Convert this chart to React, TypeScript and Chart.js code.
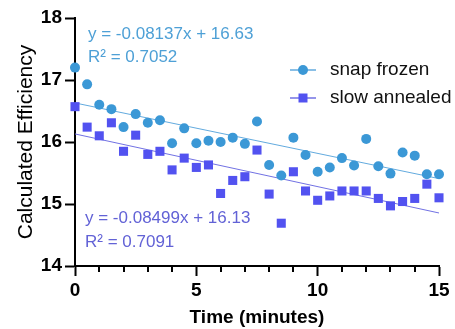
import React, { useEffect, useRef } from 'react';
import { Chart, registerables } from 'chart.js';

Chart.register(...registerables);

const timeMinutes = [0, 0.5, 1, 1.5, 2, 2.5, 3, 3.5, 4, 4.5, 5, 5.5, 6, 6.5, 7, 7.5, 8, 8.5, 9, 9.5, 10, 10.5, 11, 11.5, 12, 12.5, 13, 13.5, 14, 14.5, 15];
const snapFrozen = [17.2, 16.93, 16.6, 16.53, 16.24, 16.45, 16.31, 16.35, 15.98, 16.22, 15.98, 16.02, 16.0, 16.07, 15.97, 16.33, 15.63, 15.46, 16.07, 15.79, 15.52, 15.59, 15.74, 15.62, 16.05, 15.61, 15.49, 15.83, 15.78, 15.48, 15.48];
const slowAnnealed = [16.57, 16.24, 16.1, 16.31, 15.85, 16.11, 15.8, 15.85, 15.55, 15.74, 15.59, 15.63, 15.17, 15.38, 15.44, 15.87, 15.16, 14.69, 15.52, 15.21, 15.06, 15.13, 15.21, 15.21, 15.21, 15.09, 14.97, 15.04, 15.09, 15.32, 15.1];
const seriesLabels = ['snap frozen', 'slow annealed'];
const fitSlopes = [-0.08137, -0.08499];
const fitIntercepts = [16.63, 16.13];
const equationLines = ['y = -0.08137x + 16.63', 'y = -0.08499x + 16.13'];
const r2Lines = ['R\u00B2 = 0.7052', 'R\u00B2 = 0.7091'];
const xMajorTicks = [0, 5, 10, 15];
const yTicks = [14, 15, 16, 17, 18];

const FONT = '"Liberation Sans", Arial, Helvetica, sans-serif';
const pointColors = ['rgb(59,152,214)', 'rgb(82,82,240)'];
const lineColors = ['rgba(90,165,220,0.95)', 'rgba(105,105,225,0.95)'];
const textColors = ['rgb(78,160,214)', 'rgb(98,98,214)'];

const fitPoints = (i: number) => [timeMinutes[0], timeMinutes[timeMinutes.length - 1]].map((x) => ({ x, y: fitSlopes[i] * x + fitIntercepts[i] }));

const overlayPlugin = {
  id: 'overlay',
  afterDraw(chart: any) {
    const { ctx, chartArea, scales } = chart;
    const xs = scales.x;
    ctx.save();
    // minor ticks on x axis
    ctx.strokeStyle = '#000';
    ctx.lineWidth = 2;
    for (let v = xs.min; v <= xs.max; v++) {
      if (xMajorTicks.includes(v)) continue;
      const px = Math.round(xs.getPixelForValue(v));
      ctx.beginPath();
      ctx.moveTo(px, chartArea.bottom);
      ctx.lineTo(px, chartArea.bottom + 6);
      ctx.stroke();
    }
    // equations
    ctx.font = `17px ${FONT}`;
    ctx.textAlign = 'left';
    ctx.textBaseline = 'middle';
    ctx.fillStyle = textColors[0];
    ctx.fillText(equationLines[0], chartArea.left + 13, chartArea.top + 16);
    ctx.fillText(r2Lines[0], chartArea.left + 13, chartArea.top + 39);
    ctx.fillStyle = textColors[1];
    ctx.fillText(equationLines[1], chartArea.left + 10, chartArea.top + 200);
    ctx.fillText(r2Lines[1], chartArea.left + 10, chartArea.top + 224);
    // legend
    const lx = chartArea.left + 228;
    const rows = [chartArea.top + 52, chartArea.top + 80];
    ctx.font = `19px ${FONT}`;
    rows.forEach((ly, i) => {
      ctx.strokeStyle = lineColors[i];
      ctx.lineWidth = 1.5;
      ctx.beginPath();
      ctx.moveTo(lx - 13, ly);
      ctx.lineTo(lx + 13, ly);
      ctx.stroke();
      ctx.fillStyle = pointColors[i];
      ctx.beginPath();
      if (i === 0) {
        ctx.arc(lx, ly, 5, 0, Math.PI * 2);
      } else {
        ctx.rect(lx - 4.5, ly - 4.5, 9, 9);
      }
      ctx.fill();
      ctx.fillStyle = '#111';
      ctx.fillText(seriesLabels[i], lx + 27, ly);
    });
    ctx.restore();
  },
};

export default function App() {
  const ref = useRef<HTMLCanvasElement | null>(null);
  useEffect(() => {
    if (!ref.current) return;
    const chart = new Chart(ref.current, {
      type: 'scatter',
      data: {
        datasets: [
          {
            label: seriesLabels[0],
            data: timeMinutes.map((x, i) => ({ x, y: snapFrozen[i] })),
            pointStyle: 'circle',
            pointRadius: 5,
            backgroundColor: pointColors[0],
            borderWidth: 0,
            clip: false as any,
          },
          {
            label: seriesLabels[1],
            data: timeMinutes.map((x, i) => ({ x, y: slowAnnealed[i] })),
            pointStyle: 'rect',
            pointRadius: 6.4,
            backgroundColor: pointColors[1],
            borderWidth: 0,
            clip: false as any,
          },
          {
            type: 'line',
            label: 'fit1',
            data: fitPoints(0),
            borderColor: lineColors[0],
            borderWidth: 1,
            pointRadius: 0,
            showLine: true,
          } as any,
          {
            type: 'line',
            label: 'fit2',
            data: fitPoints(1),
            borderColor: lineColors[1],
            borderWidth: 1,
            pointRadius: 0,
            showLine: true,
          } as any,
        ],
      },
      options: {
        responsive: false,
        animation: false,
        devicePixelRatio: 1,
        layout: { padding: { top: 18, right: 16, left: 0, bottom: 0 } },
        plugins: { legend: { display: false }, tooltip: { enabled: false } },
        scales: {
          x: {
            type: 'linear',
            min: 0,
            max: 15,
            afterFit: (s: any) => { s.height = 63; },
            afterBuildTicks: (s: any) => { s.ticks = xMajorTicks.map((v) => ({ value: v })); },
            ticks: { color: '#000', font: { family: FONT, size: 19, weight: 'bold' }, padding: 3, maxRotation: 0 },
            grid: { drawOnChartArea: false, drawTicks: true, tickLength: 10, tickColor: '#000', tickWidth: 2 },
            border: { display: true, color: '#000', width: 2 },
            title: { display: true, text: 'Time (minutes)', color: '#000', font: { family: FONT, size: 19, weight: 'bold', lineHeight: 1.2 }, padding: { top: 0, bottom: 0 } },
          },
          y: {
            type: 'linear',
            min: 14,
            max: 18,
            afterFit: (s: any) => { s.width = 75; },
            afterBuildTicks: (s: any) => { s.ticks = yTicks.map((v) => ({ value: v })); },
            ticks: { color: '#000', font: { family: FONT, size: 19, weight: 'bold' }, padding: 3 },
            grid: { drawOnChartArea: false, drawTicks: true, tickLength: 10, tickColor: '#000', tickWidth: 2 },
            border: { display: true, color: '#000', width: 2 },
            title: { display: true, text: 'Calculated Efficiency', color: '#000', font: { family: FONT, size: 21, lineHeight: 1.2 }, padding: { top: 14, bottom: 0 } },
          },
        },
      },
      plugins: [overlayPlugin],
    } as any);
    return () => chart.destroy();
  }, []);
  return (
    <div style={{ position: 'absolute', left: 0, top: 0, width: 455, height: 329, background: '#fff' }}>
      <canvas ref={ref} width={455} height={329} style={{ display: 'block' }} />
    </div>
  );
}
